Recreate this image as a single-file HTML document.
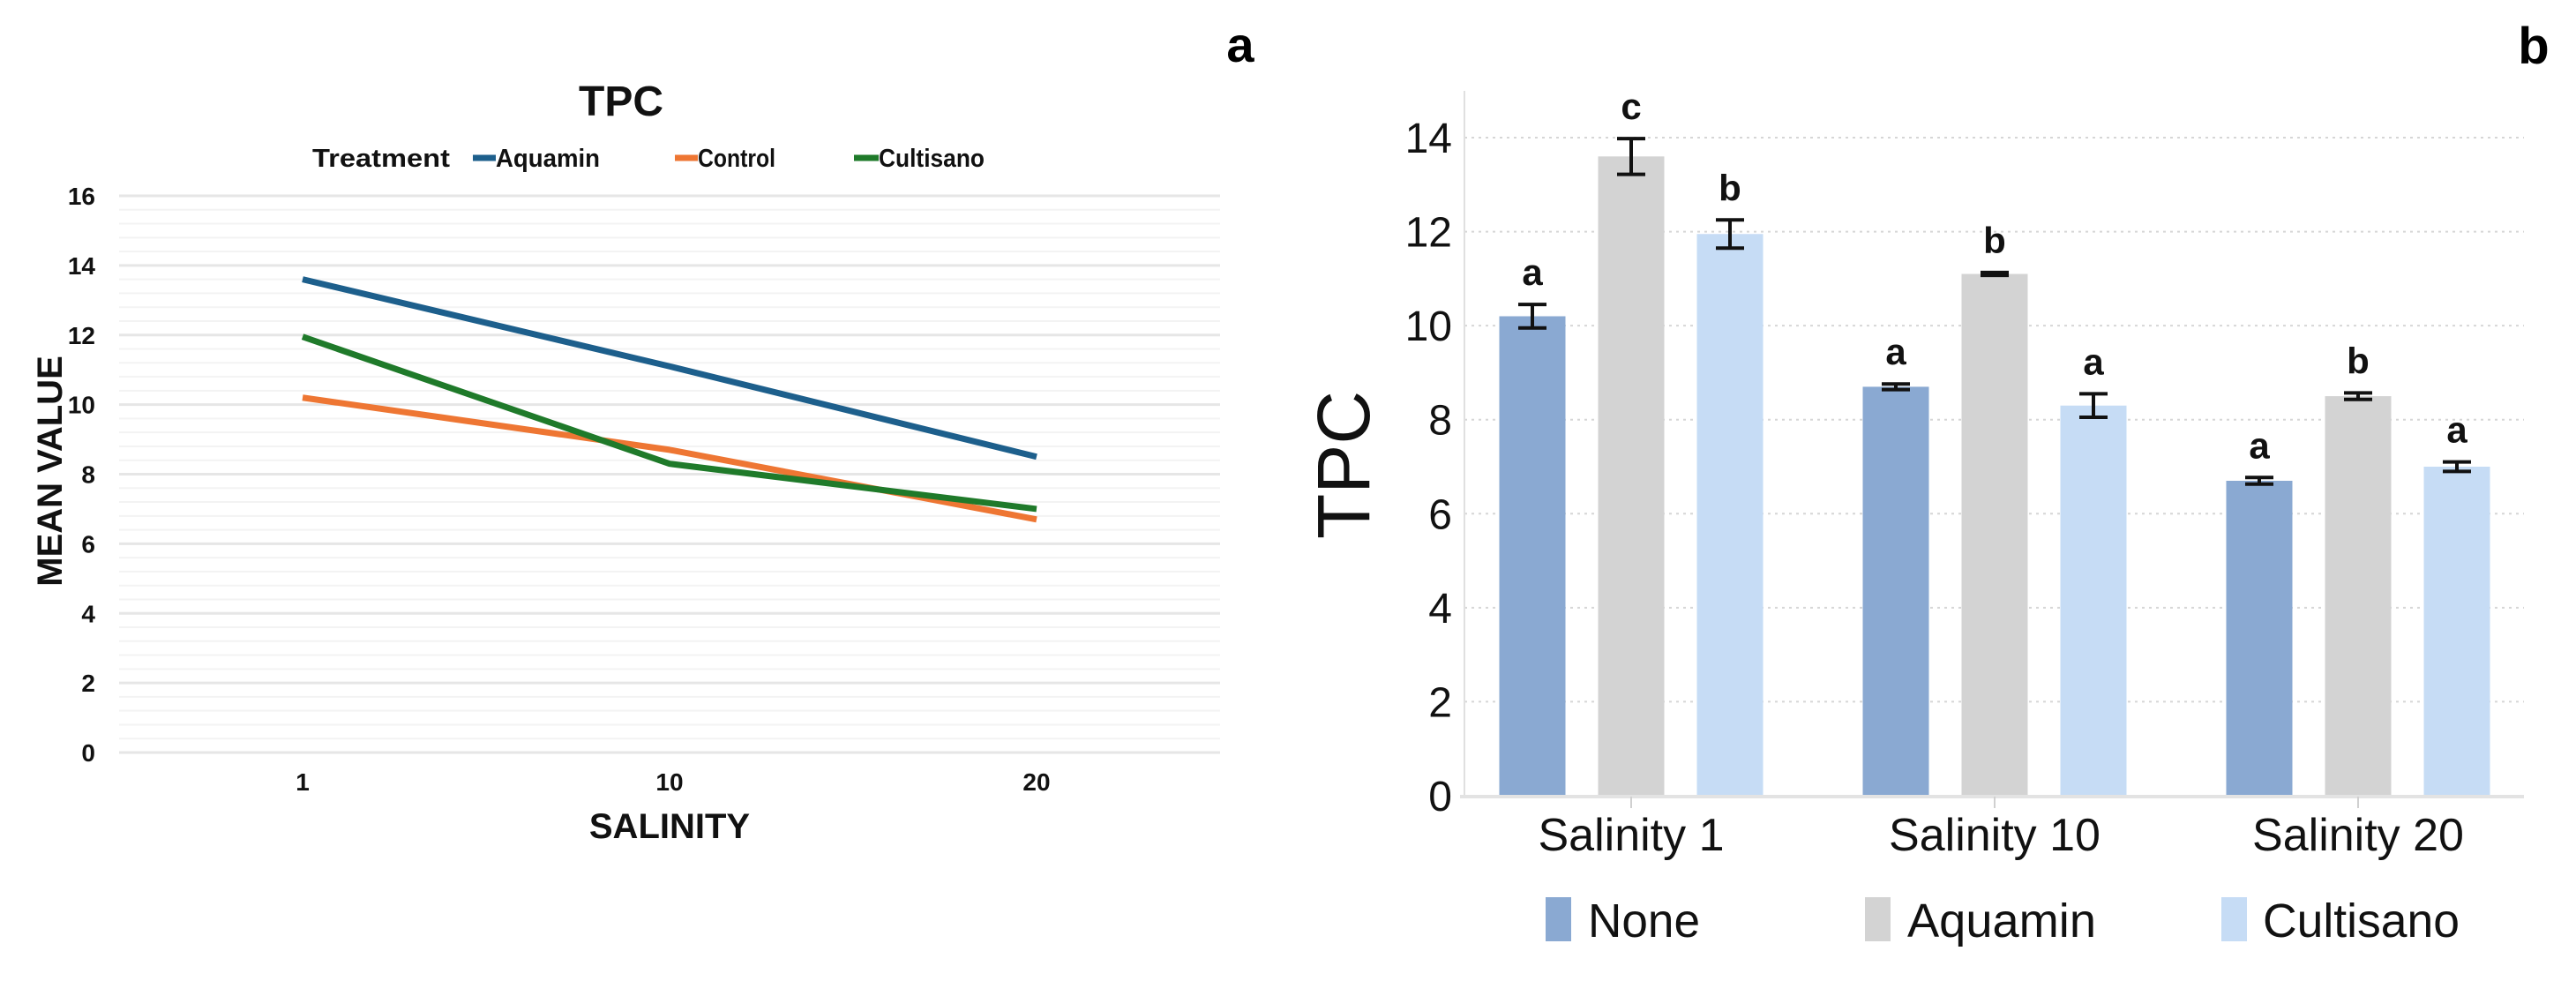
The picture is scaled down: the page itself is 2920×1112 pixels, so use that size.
<!DOCTYPE html>
<html><head><meta charset="utf-8">
<style>
html,body{margin:0;padding:0;background:#fff;}
svg{display:block;font-family:"Liberation Sans Narrow","Liberation Sans",Arial,sans-serif;}
</style></head>
<body>
<svg id="fig" width="2920" height="1112" viewBox="0 0 2920 1112" xmlns="http://www.w3.org/2000/svg">
  <g id="left"></g>
  <g id="right"></g>
</svg>
<script>
// ---- Panel a data ----
const lineCategories = ["1", "10", "20"];
const aquaminLine = [13.6, 11.1, 8.5];
const controlLine = [10.2, 8.7, 6.7];
const cultisanoLine = [11.95, 8.3, 7.0];
const lineTicks = [0, 2, 4, 6, 8, 10, 12, 14, 16];

// ---- Panel b data ----
const barCategories = ["Salinity 1", "Salinity 10", "Salinity 20"];
const noneBars = [10.2, 8.7, 6.7];
const aquaminBars = [13.6, 11.1, 8.5];
const cultisanoBars = [11.95, 8.3, 7.0];
const noneErr = [0.25, 0.06, 0.07];
const aquaminErr = [0.38, 0.03, 0.07];
const cultisanoErr = [0.3, 0.25, 0.1];
const noneLetters = ["a", "a", "a"];
const aquaminLetters = ["c", "b", "b"];
const cultisanoLetters = ["b", "a", "a"];
const barTicks = [0, 2, 4, 6, 8, 10, 12, 14];

const NS = "http://www.w3.org/2000/svg";
function mk(parent, tag, attrs, text) {
  const e = document.createElementNS(NS, tag);
  for (const k in attrs) e.setAttribute(k, attrs[k]);
  if (text !== undefined) e.textContent = text;
  parent.appendChild(e);
  return e;
}

// ================= Panel a =================
const L = document.getElementById('left');
const ly = v => 853 - v * (631 / 16);
const lx = i => 343 + i * 416;

// minor gridlines
for (let v = 0; v <= 16.001; v += 0.4) {
  const major = Math.abs(v / 2 - Math.round(v / 2)) < 1e-6;
  const g = mk(L, 'line', {x1: 135, x2: 1383, y1: ly(v), y2: ly(v), stroke: major ? '#e6e6e6' : '#f3f3f3', 'stroke-width': major ? 3 : 2});
  
  
}
lineTicks.forEach(t => {
  const e = mk(L, 'text', {x: 108, y: ly(t) + 10, 'text-anchor': 'end', 'font-size': 28, 'font-weight': 'bold', fill: '#111'}, String(t));
  
  
});
lineCategories.forEach((c, i) => {
  const e = mk(L, 'text', {x: lx(i), y: 896, 'text-anchor': 'middle', 'font-size': 28, 'font-weight': 'bold', fill: '#111'}, c);
  
  
});
const seriesA = [[aquaminLine, '#1d5f8c', 'aquamin-line'], [controlLine, '#ee7633', 'control-line'], [cultisanoLine, '#1f7a2a', 'cultisano-line']];
seriesA.forEach(([vals, col, name]) => {
  const pts = vals.map((v, i) => lx(i) + ',' + ly(v)).join(' ');
  const p = mk(L, 'polyline', {points: pts, fill: 'none', stroke: col, 'stroke-width': 7, 'stroke-linejoin': 'round'});
  
  
});
let t;
t = mk(L, 'text', {x: 704, y: 131, 'text-anchor': 'middle', 'font-size': 48, 'font-weight': 'bold', fill: '#111'}, 'TPC');
 
t = mk(L, 'text', {x: 354, y: 189, 'font-size': 29, 'font-weight': 'bold', fill: '#111', textLength: 156, lengthAdjust: 'spacingAndGlyphs'}, 'Treatment');
 
const legA = [[536, 562, 118, 'Aquamin', '#1d5f8c'], [765, 791, 88, 'Control', '#ee7633'], [968, 996, 120, 'Cultisano', '#1f7a2a']];
legA.forEach(([x1, tx, w, label, col]) => {
  const g = mk(L, 'g', {});
  
  
  mk(g, 'line', {x1: x1, x2: tx, y1: 179, y2: 179, stroke: col, 'stroke-width': 7});
  mk(g, 'text', {x: tx, y: 189, 'font-size': 29, 'font-weight': 'bold', fill: '#111', textLength: w, lengthAdjust: 'spacingAndGlyphs'}, label);
});
t = mk(L, 'text', {x: 0, y: 0, 'text-anchor': 'middle', 'font-size': 40, 'font-weight': 'bold', fill: '#111', transform: 'translate(70,534) rotate(-90)'}, 'MEAN VALUE');
 
t = mk(L, 'text', {x: 759, y: 950, 'text-anchor': 'middle', 'font-size': 40, 'font-weight': 'bold', fill: '#111'}, 'SALINITY');
 
t = mk(L, 'text', {x: 1406, y: 70, 'text-anchor': 'middle', 'font-size': 56, 'font-weight': 'bold', fill: '#000', 'font-family': 'Liberation Sans, sans-serif'}, 'a');
 

// ================= Panel b =================
const R = document.getElementById('right');
const by = v => 902 - v * (746 / 14);
const gx = i => 1849 + i * 412;
const BW = 75, OFF = 112;

barTicks.forEach(v => {
  if (v > 0) {
    const g = mk(R, 'line', {x1: 1660, x2: 2861, y1: by(v), y2: by(v), stroke: '#d6d6d6', 'stroke-width': 2, 'stroke-dasharray': '3,5'});
    
    
  }
  const e = mk(R, 'text', {x: 1646, y: by(v) + 17, 'text-anchor': 'end', 'font-size': 48, fill: '#111'}, String(v));
  
  
});
t = mk(R, 'line', {x1: 1660, x2: 1660, y1: 103, y2: 902, stroke: '#e0e0e0', 'stroke-width': 2});
 

const seriesB = [[noneBars, noneErr, noneLetters, '#8aa9d2', 'none', -1], [aquaminBars, aquaminErr, aquaminLetters, '#d3d3d3', 'aquamin', 0], [cultisanoBars, cultisanoErr, cultisanoLetters, '#c6dcf5', 'cultisano', 1]];
seriesB.forEach(([vals, errs, lets, col, name, k]) => {
  vals.forEach((v, i) => {
    const cx = gx(i) + k * OFF;
    const r = mk(R, 'rect', {x: cx - BW / 2, y: by(v), width: BW, height: by(0) - by(v), fill: col});
    
    
    const e = errs[i];
    const eb = mk(R, 'path', {d: `M${cx - 16},${by(v + e)}H${cx + 16}M${cx},${by(v + e)}V${by(v - e)}M${cx - 16},${by(v - e)}H${cx + 16}`, stroke: '#111', 'stroke-width': 4, fill: 'none'});
    
    
    const lt = mk(R, 'text', {x: cx, y: by(v + e) - 22, 'text-anchor': 'middle', 'font-size': 42, 'font-weight': 'bold', fill: '#111'}, lets[i]);
    
    
  });
});
t = mk(R, 'line', {x1: 1655, x2: 2861, y1: 903, y2: 903, stroke: '#e3e3e3', 'stroke-width': 4});
 
barCategories.forEach((c, i) => {
  const tk = mk(R, 'line', {x1: gx(i), x2: gx(i), y1: 903, y2: 916, stroke: '#d0d0d0', 'stroke-width': 2});
  
  
  const e = mk(R, 'text', {x: gx(i), y: 964, 'text-anchor': 'middle', 'font-size': 52, fill: '#111'}, c);
  
  
});
t = mk(R, 'text', {x: 0, y: 0, 'text-anchor': 'middle', 'font-size': 84, fill: '#111', 'font-family': 'Liberation Sans, sans-serif', transform: 'translate(1552,527) rotate(-90)'}, 'TPC');
 

const legB = [[1752, 1800, 127, 'None', '#8aa9d2'], [2114, 2162, 214, 'Aquamin', '#d3d3d3'], [2518, 2565, 223, 'Cultisano', '#c6dcf5']];
legB.forEach(([sx, tx, w, label, col]) => {
  const g = mk(R, 'g', {});
  
  
  mk(g, 'rect', {x: sx, y: 1017, width: 29, height: 50, fill: col});
  mk(g, 'text', {x: tx, y: 1062, 'font-size': 54, fill: '#111', textLength: w, lengthAdjust: 'spacingAndGlyphs'}, label);
});
t = mk(R, 'text', {x: 2872, y: 72, 'text-anchor': 'middle', 'font-size': 58, 'font-weight': 'bold', fill: '#000', 'font-family': 'Liberation Sans, sans-serif'}, 'b');
 
</script>
</body></html>
